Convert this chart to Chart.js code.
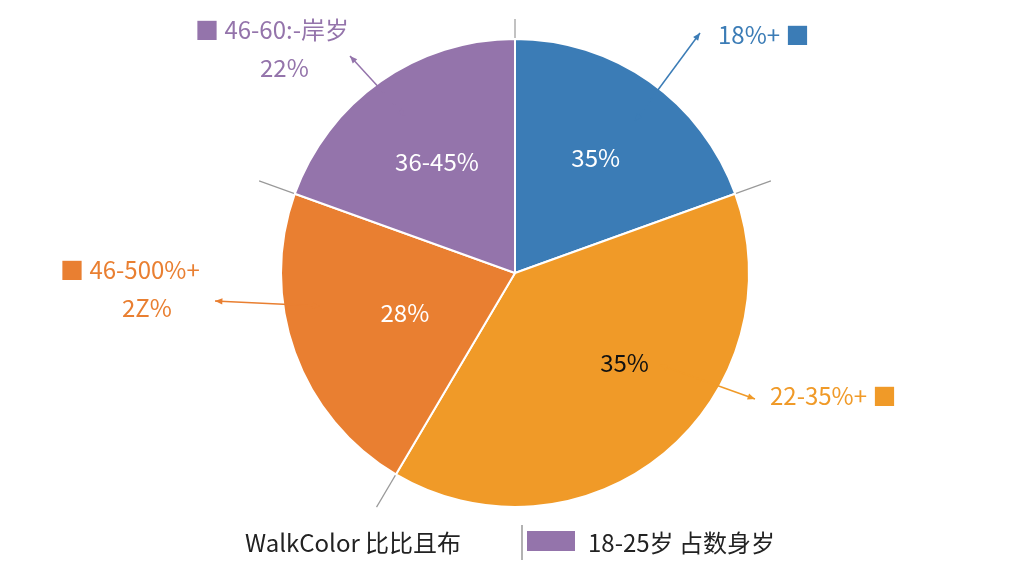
<!DOCTYPE html>
<html><head><meta charset="utf-8">
<script src="https://cdn.jsdelivr.net/npm/chart.js@4/dist/chart.umd.min.js"></script>
<style>html,body{margin:0;background:#fff}#w{width:1024px;height:576px}</style>
</head><body><div id="w"><canvas id="c"></canvas></div>
<script>
const categories = ["18%+", "22-35%+", "46-500%+", "46-60:-岸岁"];
const values = [19.5, 39, 22, 19.5];
const innerLabels = ["35%", "35%", "28%", "36-45%"];
const outerLabels = [["18%+ ■"], ["22-35%+ ■"], ["■ 46-500%+", "2Z%"], ["■ 46-60:-岸岁", "22%"]];
const colors = ["#3b7cb6", "#f09a28", "#e97f31", "#9474ab"];
const legendLabels = ["WalkColor 比比且布", "18-25岁 占数身岁"];

const F = '"Noto Sans CJK SC","Liberation Sans",sans-serif';
function arrow(ctx,x1,y1,x2,y2,col){
  ctx.strokeStyle=col;ctx.fillStyle=col;ctx.lineWidth=1.5;
  ctx.beginPath();ctx.moveTo(x1,y1);ctx.lineTo(x2,y2);ctx.stroke();
  const a=Math.atan2(y2-y1,x2-x1);
  for(const [x,y,d] of [[x1,y1,a+Math.PI],[x2,y2,a]]){
    ctx.beginPath();ctx.moveTo(x,y);
    ctx.lineTo(x-8*Math.cos(d-0.4),y-8*Math.sin(d-0.4));
    ctx.lineTo(x-8*Math.cos(d+0.4),y-8*Math.sin(d+0.4));ctx.fill();
  }
}
const deco = {
  id:'deco',
  beforeDatasetsDraw(chart){
    const ctx=chart.ctx, arcs=chart.getDatasetMeta(0).data;
    ctx.save();ctx.strokeStyle='#999';ctx.lineWidth=1.2;
    arcs.forEach((a,i)=>{
      const ang=a.startAngle, r=a.outerRadius+(i===0?20:38);
      ctx.beginPath();ctx.moveTo(a.x,a.y);ctx.lineTo(a.x+r*Math.cos(ang),a.y+r*Math.sin(ang));ctx.stroke();
    });
    ctx.restore();
  },
  afterDatasetsDraw(chart){
    const ctx=chart.ctx, arcs=chart.getDatasetMeta(0).data;
    ctx.save();ctx.textBaseline='middle';
    const pos=[[0.6,0,0],[0.5,35,0],[0.5,0,0],[0.58,0,0]];
    arcs.forEach((a,i)=>{
      const m=(a.startAngle+a.endAngle)/2, r=a.outerRadius*pos[i][0];
      ctx.font='24px '+F;ctx.textAlign='center';
      ctx.fillStyle=i===1?'#111':'#fff';
      ctx.fillText(innerLabels[i],a.x+r*Math.cos(m)+pos[i][1],a.y+r*Math.sin(m)+pos[i][2]);
    });
    const cx=arcs[0].x, cy=arcs[0].y;
    const L=[
      {x:718,y:35,a:[120,-152,185,-240]},
      {x:770,y:396,a:[145,92,240,126]},
      {x:60,y:270,a:[-195,33,-300,28]},
      {x:195,y:30,a:[-110,-157,-165,-217]},
    ];
    L.forEach((l,i)=>{
      ctx.font='24px '+F;ctx.fillStyle=colors[i];ctx.textAlign='left';
      ctx.fillText(outerLabels[i][0],l.x,l.y);
      if(outerLabels[i][1]){ctx.fillText(outerLabels[i][1],l.x+(i===2?62:65),l.y+38);}
      arrow(ctx,cx+l.a[0],cy+l.a[1],cx+l.a[2],cy+l.a[3],colors[i]);
    });
    ctx.font='24px '+F;ctx.textAlign='left';ctx.fillStyle='#222';
    ctx.fillText(legendLabels[0],245,543);
    ctx.strokeStyle='#999';ctx.beginPath();ctx.moveTo(522,525);ctx.lineTo(522,560);ctx.stroke();
    ctx.fillStyle=colors[3];ctx.fillRect(527,531,48,20);
    ctx.fillStyle='#222';ctx.fillText(legendLabels[1],588,543);
    ctx.restore();
  }
};
new Chart(document.getElementById('c'),{
  type:'pie',
  data:{labels:categories,datasets:[{data:values,backgroundColor:colors,borderColor:'#fff',borderWidth:2}]},
  options:{responsive:true,maintainAspectRatio:false,animation:false,
    layout:{padding:{top:38,bottom:68,left:6}},
    plugins:{legend:{display:false},tooltip:{enabled:false}}},
  plugins:[deco]
});
</script></body></html>
